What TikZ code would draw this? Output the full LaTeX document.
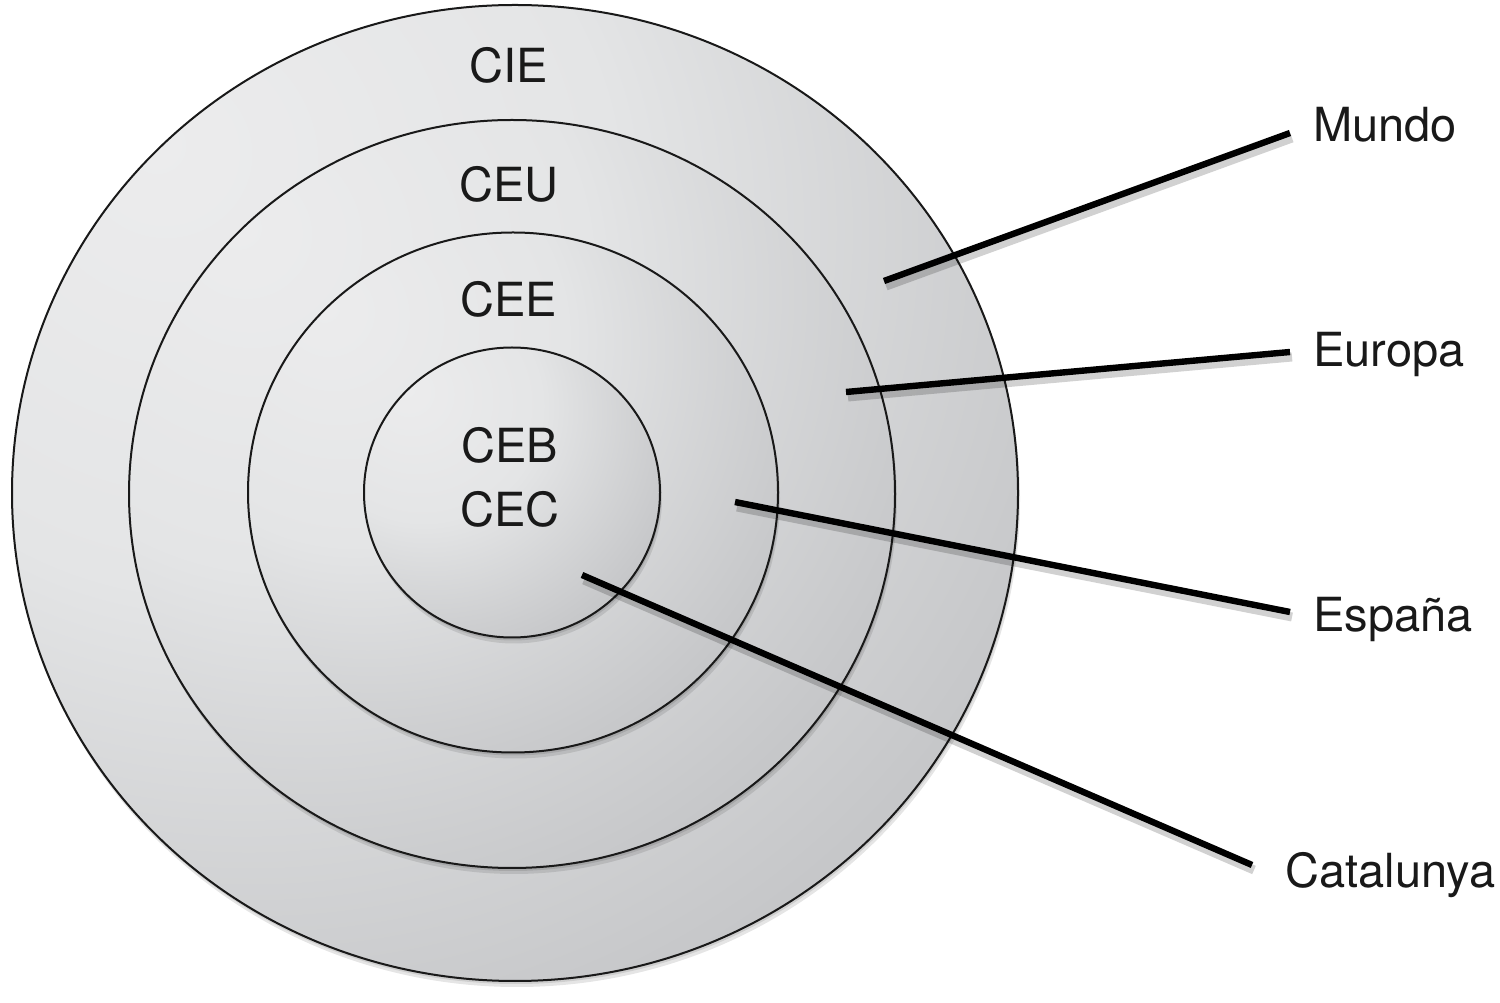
\documentclass[tikz,border=0pt]{standalone}
\usepackage{fontspec}
\setmainfont{TeX Gyre Heros}
\definecolor{shlight}{HTML}{ECECED}
\definecolor{shmid}{HTML}{E4E5E6}
\definecolor{shdark}{HTML}{8F9094}
\pgfdeclareradialshading{ringshade}{\pgfpoint{-18bp}{18bp}}{color(0bp)=(shlight); color(20bp)=(shmid); color(80bp)=(shdark); color(120bp)=(shdark)}
\tikzset{
  ring/.style={shading=ringshade, draw=black!90, line width=1pt},
  ringshadow/.style={fill=black, opacity=0.10},
  lbl/.style={font=\fontsize{23.5}{28}\selectfont, inner sep=0pt, text=black!90},
  leader/.style={line width=3.2pt, draw=black, line cap=butt},
  leadershadow/.style={line width=4.5pt, draw=black, opacity=0.18}
}
\begin{document}
\begin{tikzpicture}[x=0.5pt,y=0.5pt]
\useasboundingbox (0,0) rectangle (1500,1002);
% rings: outer to inner
\foreach \cx/\cy/\rx/\ry in {515/509/503/488, 512/508/383/374, 513/509.5/265/260, 512/509.5/148/145}{
  \fill[ringshadow] (\cx+2,\cy-6) ellipse [x radius=\rx, y radius=\ry];
  \fill[ringshadow] (\cx+1,\cy-3) ellipse [x radius=\rx, y radius=\ry];
  \shade[ring] (\cx,\cy) ellipse [x radius=\rx, y radius=\ry];
}
% ring labels
\node[lbl, anchor=base] (cie) at (509,919) {CIE};
\node[lbl, anchor=base] (ceu) at (509,800) {CEU};
\node[lbl, anchor=base] (cee) at (509,685) {CEE};
\node[lbl, anchor=base] (ceb) at (510,539) {CEB};
\node[lbl, anchor=base] (cec) at (510,475) {CEC};
% side labels
\node[lbl, anchor=base west] (mundo) at (1313,860) {Mundo};
\node[lbl, anchor=base west] (europa) at (1313,635) {Europa};
\node[lbl, anchor=base west] (espana) at (1313,370) {España};
\node[lbl, anchor=base west] (catalunya) at (1285,114) {Catalunya};
% connector end points
\coordinate (mIn) at (884,721);  \coordinate (mOut) at (1290,869);
\coordinate (eIn) at (846,610);  \coordinate (eOut) at (1290,650);
\coordinate (sIn) at (735,500);  \coordinate (sOut) at (1290,390);
\coordinate (cIn) at (582,427);  \coordinate (cOut) at (1252,137);
% shadows of connectors
\foreach \a/\b in {mIn/mOut, eIn/eOut, sIn/sOut, cIn/cOut}{
  \draw[leadershadow] ([shift={(2,-5)}]\a) -- ([shift={(2,-5)}]\b);
}
% connectors
\draw[leader] (mIn) -- (mOut);
\draw[leader] (eIn) -- (eOut);
\draw[leader] (sIn) -- (sOut);
\draw[leader] (cIn) -- (cOut);
\end{tikzpicture}
\end{document}
